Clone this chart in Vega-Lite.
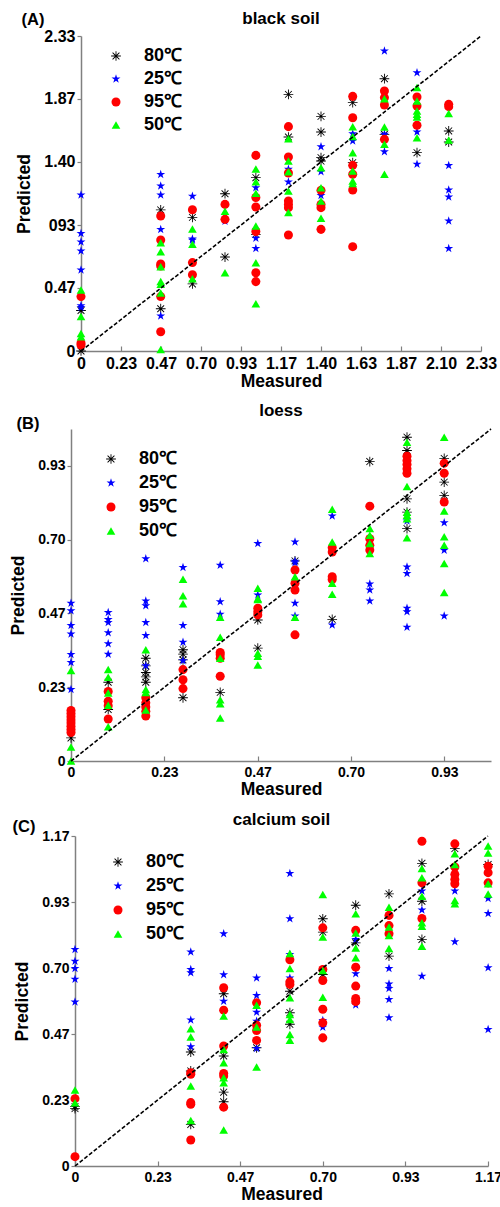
{
"$schema": "https://vega.github.io/schema/vega-lite/v6.json",
"padding": {"left": 9, "top": 9, "right": 0, "bottom": 0},
"config": {
 "font": "Liberation Sans",
 "view": {"stroke": null},
 "concat": {"spacing": 12},
 "axis": {"domainColor": "#808080", "tickColor": "#808080", "domainWidth": 1.5, "tickWidth": 1.2, "labelColor": "black", "labelFontWeight": "bold", "titleFontWeight": "bold", "titleFontSize": 17.5, "titleColor": "black", "grid": false, "labelFont": "Liberation Sans", "titleFont": "Liberation Sans", "labelFlush": false, "labelOverlap": false},
 "axisX": {"tickSize": -5, "labelPadding": 9, "titlePadding": 1},
 "axisY": {"tickSize": 4, "labelPadding": 2, "titlePadding": 10}
},
"resolve": {"scale": {"color": "independent", "shape": "independent", "size": "independent"}, "legend": {"color": "independent", "shape": "independent"}},
"datasets": {
"A": [
{"m":0,"p":0.30,"T":"80℃"},{"m":0,"p":0.0,"T":"80℃"},{"m":0.465,"p":1.045,"T":"80℃"},{"m":0.465,"p":0.313,"T":"80℃"},{"m":0.65,"p":0.99,"T":"80℃"},{"m":0.65,"p":0.497,"T":"80℃"},{"m":0.84,"p":1.165,"T":"80℃"},{"m":0.84,"p":0.696,"T":"80℃"},{"m":1.02,"p":1.284,"T":"80℃"},{"m":1.02,"p":0.864,"T":"80℃"},{"m":1.21,"p":1.901,"T":"80℃"},{"m":1.21,"p":1.585,"T":"80℃"},{"m":1.40,"p":1.738,"T":"80℃"},{"m":1.40,"p":1.622,"T":"80℃"},{"m":1.40,"p":1.432,"T":"80℃"},{"m":1.40,"p":1.407,"T":"80℃"},{"m":1.585,"p":1.84,"T":"80℃"},{"m":1.585,"p":1.395,"T":"80℃"},{"m":1.77,"p":2.017,"T":"80℃"},{"m":1.77,"p":1.605,"T":"80℃"},{"m":1.96,"p":1.469,"T":"80℃"},{"m":2.145,"p":1.63,"T":"80℃"},{"m":2.145,"p":1.548,"T":"80℃"},
{"m":0,"p":1.156,"T":"25℃"},{"m":0,"p":0.871,"T":"25℃"},{"m":0,"p":0.807,"T":"25℃"},{"m":0,"p":0.741,"T":"25℃"},{"m":0,"p":0.6,"T":"25℃"},{"m":0,"p":0.335,"T":"25℃"},{"m":0,"p":0.322,"T":"25℃"},{"m":0.465,"p":1.308,"T":"25℃"},{"m":0.465,"p":1.222,"T":"25℃"},{"m":0.465,"p":1.156,"T":"25℃"},{"m":0.465,"p":0.9,"T":"25℃"},{"m":0.465,"p":0.26,"T":"25℃"},{"m":0.65,"p":1.146,"T":"25℃"},{"m":0.65,"p":0.83,"T":"25℃"},{"m":0.65,"p":0.82,"T":"25℃"},{"m":0.84,"p":0.962,"T":"25℃"},{"m":1.02,"p":1.21,"T":"25℃"},{"m":1.02,"p":0.835,"T":"25℃"},{"m":1.02,"p":0.76,"T":"25℃"},{"m":1.21,"p":1.346,"T":"25℃"},{"m":1.21,"p":1.252,"T":"25℃"},{"m":1.40,"p":1.514,"T":"25℃"},{"m":1.40,"p":1.328,"T":"25℃"},{"m":1.40,"p":1.153,"T":"25℃"},{"m":1.585,"p":1.61,"T":"25℃"},{"m":1.585,"p":1.556,"T":"25℃"},{"m":1.77,"p":2.222,"T":"25℃"},{"m":1.77,"p":1.605,"T":"25℃"},{"m":1.77,"p":1.477,"T":"25℃"},{"m":1.96,"p":2.062,"T":"25℃"},{"m":1.96,"p":1.622,"T":"25℃"},{"m":1.96,"p":1.383,"T":"25℃"},{"m":2.145,"p":1.375,"T":"25℃"},{"m":2.145,"p":1.193,"T":"25℃"},{"m":2.145,"p":1.141,"T":"25℃"},{"m":2.145,"p":0.963,"T":"25℃"},{"m":2.145,"p":0.76,"T":"25℃"},
{"m":0,"p":0.403,"T":"95℃"},{"m":0,"p":0.06,"T":"95℃"},{"m":0,"p":0.044,"T":"95℃"},{"m":0.465,"p":1.0,"T":"95℃"},{"m":0.465,"p":0.822,"T":"95℃"},{"m":0.465,"p":0.645,"T":"95℃"},{"m":0.465,"p":0.63,"T":"95℃"},{"m":0.465,"p":0.403,"T":"95℃"},{"m":0.465,"p":0.143,"T":"95℃"},{"m":0.65,"p":1.046,"T":"95℃"},{"m":0.65,"p":0.655,"T":"95℃"},{"m":0.65,"p":0.565,"T":"95℃"},{"m":0.84,"p":1.086,"T":"95℃"},{"m":0.84,"p":0.975,"T":"95℃"},{"m":1.02,"p":1.449,"T":"95℃"},{"m":1.02,"p":1.137,"T":"95℃"},{"m":1.02,"p":1.067,"T":"95℃"},{"m":1.02,"p":0.885,"T":"95℃"},{"m":1.02,"p":0.58,"T":"95℃"},{"m":1.02,"p":0.514,"T":"95℃"},{"m":1.21,"p":1.662,"T":"95℃"},{"m":1.21,"p":1.437,"T":"95℃"},{"m":1.21,"p":1.319,"T":"95℃"},{"m":1.21,"p":1.111,"T":"95℃"},{"m":1.21,"p":1.086,"T":"95℃"},{"m":1.21,"p":1.062,"T":"95℃"},{"m":1.21,"p":0.859,"T":"95℃"},{"m":1.40,"p":1.19,"T":"95℃"},{"m":1.40,"p":1.086,"T":"95℃"},{"m":1.40,"p":1.062,"T":"95℃"},{"m":1.40,"p":0.901,"T":"95℃"},{"m":1.585,"p":1.886,"T":"95℃"},{"m":1.585,"p":1.728,"T":"95℃"},{"m":1.585,"p":1.375,"T":"95℃"},{"m":1.585,"p":1.309,"T":"95℃"},{"m":1.585,"p":1.193,"T":"95℃"},{"m":1.585,"p":0.773,"T":"95℃"},{"m":1.77,"p":1.926,"T":"95℃"},{"m":1.77,"p":1.877,"T":"95℃"},{"m":1.77,"p":1.822,"T":"95℃"},{"m":1.77,"p":1.568,"T":"95℃"},{"m":1.96,"p":1.881,"T":"95℃"},{"m":1.96,"p":1.815,"T":"95℃"},{"m":1.96,"p":1.672,"T":"95℃"},{"m":2.145,"p":1.827,"T":"95℃"},{"m":2.145,"p":1.81,"T":"95℃"},
{"m":0,"p":0.452,"T":"50℃"},{"m":0,"p":0.255,"T":"50℃"},{"m":0,"p":0.13,"T":"50℃"},{"m":0,"p":0.105,"T":"50℃"},{"m":0.465,"p":0.802,"T":"50℃"},{"m":0.465,"p":0.736,"T":"50℃"},{"m":0.465,"p":0.625,"T":"50℃"},{"m":0.465,"p":0.514,"T":"50℃"},{"m":0.465,"p":0.494,"T":"50℃"},{"m":0.465,"p":0.43,"T":"50℃"},{"m":0.465,"p":0.012,"T":"50℃"},{"m":0.65,"p":0.903,"T":"50℃"},{"m":0.65,"p":0.79,"T":"50℃"},{"m":0.65,"p":0.535,"T":"50℃"},{"m":0.84,"p":1.035,"T":"50℃"},{"m":0.84,"p":0.58,"T":"50℃"},{"m":1.02,"p":1.348,"T":"50℃"},{"m":1.02,"p":1.254,"T":"50℃"},{"m":1.02,"p":1.168,"T":"50℃"},{"m":1.02,"p":0.926,"T":"50℃"},{"m":1.02,"p":0.654,"T":"50℃"},{"m":1.02,"p":0.35,"T":"50℃"},{"m":1.21,"p":1.573,"T":"50℃"},{"m":1.21,"p":1.407,"T":"50℃"},{"m":1.21,"p":1.328,"T":"50℃"},{"m":1.21,"p":1.185,"T":"50℃"},{"m":1.21,"p":1.025,"T":"50℃"},{"m":1.40,"p":1.358,"T":"50℃"},{"m":1.40,"p":1.21,"T":"50℃"},{"m":1.40,"p":1.111,"T":"50℃"},{"m":1.40,"p":0.983,"T":"50℃"},{"m":1.585,"p":1.662,"T":"50℃"},{"m":1.585,"p":1.588,"T":"50℃"},{"m":1.585,"p":1.469,"T":"50℃"},{"m":1.585,"p":1.333,"T":"50℃"},{"m":1.585,"p":1.259,"T":"50℃"},{"m":1.585,"p":1.24,"T":"50℃"},{"m":1.77,"p":1.869,"T":"50℃"},{"m":1.77,"p":1.659,"T":"50℃"},{"m":1.77,"p":1.531,"T":"50℃"},{"m":1.77,"p":1.309,"T":"50℃"},{"m":1.96,"p":1.951,"T":"50℃"},{"m":1.96,"p":1.852,"T":"50℃"},{"m":1.96,"p":1.778,"T":"50℃"},{"m":1.96,"p":1.753,"T":"50℃"},{"m":1.96,"p":1.733,"T":"50℃"},{"m":1.96,"p":1.58,"T":"50℃"},{"m":2.145,"p":1.76,"T":"50℃"},{"m":2.145,"p":1.563,"T":"50℃"}
],
"B": [
{"m":0,"p":0.073,"T":"80℃"},{"m":0.093,"p":0.249,"T":"80℃"},{"m":0.093,"p":0.163,"T":"80℃"},{"m":0.187,"p":0.325,"T":"80℃"},{"m":0.187,"p":0.301,"T":"80℃"},{"m":0.187,"p":0.28,"T":"80℃"},{"m":0.187,"p":0.266,"T":"80℃"},{"m":0.187,"p":0.249,"T":"80℃"},{"m":0.28,"p":0.352,"T":"80℃"},{"m":0.28,"p":0.338,"T":"80℃"},{"m":0.28,"p":0.32,"T":"80℃"},{"m":0.28,"p":0.2,"T":"80℃"},{"m":0.373,"p":0.217,"T":"80℃"},{"m":0.467,"p":0.446,"T":"80℃"},{"m":0.467,"p":0.357,"T":"80℃"},{"m":0.56,"p":0.633,"T":"80℃"},{"m":0.653,"p":0.448,"T":"80℃"},{"m":0.747,"p":0.947,"T":"80℃"},{"m":0.84,"p":1.024,"T":"80℃"},{"m":0.84,"p":0.982,"T":"80℃"},{"m":0.84,"p":0.829,"T":"80℃"},{"m":0.84,"p":0.787,"T":"80℃"},{"m":0.84,"p":0.735,"T":"80℃"},{"m":0.933,"p":0.957,"T":"80℃"},{"m":0.933,"p":0.882,"T":"80℃"},{"m":0.933,"p":0.84,"T":"80℃"},
{"m":0,"p":0.499,"T":"25℃"},{"m":0,"p":0.475,"T":"25℃"},{"m":0,"p":0.429,"T":"25℃"},{"m":0,"p":0.402,"T":"25℃"},{"m":0,"p":0.337,"T":"25℃"},{"m":0,"p":0.312,"T":"25℃"},{"m":0,"p":0.226,"T":"25℃"},{"m":0.093,"p":0.47,"T":"25℃"},{"m":0.093,"p":0.448,"T":"25℃"},{"m":0.093,"p":0.438,"T":"25℃"},{"m":0.093,"p":0.406,"T":"25℃"},{"m":0.093,"p":0.371,"T":"25℃"},{"m":0.093,"p":0.338,"T":"25℃"},{"m":0.187,"p":0.64,"T":"25℃"},{"m":0.187,"p":0.506,"T":"25℃"},{"m":0.187,"p":0.491,"T":"25℃"},{"m":0.187,"p":0.438,"T":"25℃"},{"m":0.187,"p":0.397,"T":"25℃"},{"m":0.187,"p":0.301,"T":"25℃"},{"m":0.28,"p":0.612,"T":"25℃"},{"m":0.28,"p":0.429,"T":"25℃"},{"m":0.28,"p":0.376,"T":"25℃"},{"m":0.28,"p":0.317,"T":"25℃"},{"m":0.373,"p":0.619,"T":"25℃"},{"m":0.373,"p":0.504,"T":"25℃"},{"m":0.373,"p":0.464,"T":"25℃"},{"m":0.467,"p":0.688,"T":"25℃"},{"m":0.467,"p":0.525,"T":"25℃"},{"m":0.56,"p":0.693,"T":"25℃"},{"m":0.56,"p":0.632,"T":"25℃"},{"m":0.56,"p":0.627,"T":"25℃"},{"m":0.56,"p":0.499,"T":"25℃"},{"m":0.56,"p":0.459,"T":"25℃"},{"m":0.653,"p":0.775,"T":"25℃"},{"m":0.653,"p":0.43,"T":"25℃"},{"m":0.747,"p":0.56,"T":"25℃"},{"m":0.747,"p":0.541,"T":"25℃"},{"m":0.747,"p":0.506,"T":"25℃"},{"m":0.84,"p":0.759,"T":"25℃"},{"m":0.84,"p":0.614,"T":"25℃"},{"m":0.84,"p":0.593,"T":"25℃"},{"m":0.84,"p":0.483,"T":"25℃"},{"m":0.84,"p":0.472,"T":"25℃"},{"m":0.84,"p":0.423,"T":"25℃"},{"m":0.933,"p":0.754,"T":"25℃"},{"m":0.933,"p":0.667,"T":"25℃"},{"m":0.933,"p":0.459,"T":"25℃"},
{"m":0,"p":0.16,"T":"95℃"},{"m":0,"p":0.15,"T":"95℃"},{"m":0,"p":0.14,"T":"95℃"},{"m":0,"p":0.13,"T":"95℃"},{"m":0,"p":0.12,"T":"95℃"},{"m":0,"p":0.11,"T":"95℃"},{"m":0,"p":0.1,"T":"95℃"},{"m":0,"p":0.09,"T":"95℃"},{"m":0.093,"p":0.22,"T":"95℃"},{"m":0.093,"p":0.189,"T":"95℃"},{"m":0.093,"p":0.175,"T":"95℃"},{"m":0.093,"p":0.133,"T":"95℃"},{"m":0.187,"p":0.2,"T":"95℃"},{"m":0.187,"p":0.184,"T":"95℃"},{"m":0.187,"p":0.171,"T":"95℃"},{"m":0.187,"p":0.157,"T":"95℃"},{"m":0.187,"p":0.142,"T":"95℃"},{"m":0.28,"p":0.289,"T":"95℃"},{"m":0.28,"p":0.257,"T":"95℃"},{"m":0.28,"p":0.229,"T":"95℃"},{"m":0.373,"p":0.343,"T":"95℃"},{"m":0.373,"p":0.336,"T":"95℃"},{"m":0.373,"p":0.325,"T":"95℃"},{"m":0.373,"p":0.268,"T":"95℃"},{"m":0.467,"p":0.483,"T":"95℃"},{"m":0.467,"p":0.472,"T":"95℃"},{"m":0.467,"p":0.462,"T":"95℃"},{"m":0.56,"p":0.604,"T":"95℃"},{"m":0.56,"p":0.562,"T":"95℃"},{"m":0.56,"p":0.541,"T":"95℃"},{"m":0.56,"p":0.399,"T":"95℃"},{"m":0.653,"p":0.675,"T":"95℃"},{"m":0.653,"p":0.661,"T":"95℃"},{"m":0.653,"p":0.583,"T":"95℃"},{"m":0.653,"p":0.574,"T":"95℃"},{"m":0.747,"p":0.806,"T":"95℃"},{"m":0.747,"p":0.703,"T":"95℃"},{"m":0.747,"p":0.682,"T":"95℃"},{"m":0.747,"p":0.667,"T":"95℃"},{"m":0.84,"p":0.964,"T":"95℃"},{"m":0.84,"p":0.95,"T":"95℃"},{"m":0.84,"p":0.938,"T":"95℃"},{"m":0.84,"p":0.924,"T":"95℃"},{"m":0.84,"p":0.91,"T":"95℃"},{"m":0.933,"p":0.942,"T":"95℃"},{"m":0.933,"p":0.91,"T":"95℃"},{"m":0.933,"p":0.819,"T":"95℃"},
{"m":0,"p":0.286,"T":"50℃"},{"m":0,"p":0.044,"T":"50℃"},{"m":0,"p":0.0,"T":"50℃"},{"m":0.093,"p":0.289,"T":"50℃"},{"m":0.093,"p":0.265,"T":"50℃"},{"m":0.093,"p":0.215,"T":"50℃"},{"m":0.093,"p":0.176,"T":"50℃"},{"m":0.093,"p":0.108,"T":"50℃"},{"m":0.187,"p":0.352,"T":"50℃"},{"m":0.187,"p":0.226,"T":"50℃"},{"m":0.187,"p":0.217,"T":"50℃"},{"m":0.187,"p":0.161,"T":"50℃"},{"m":0.28,"p":0.575,"T":"50℃"},{"m":0.28,"p":0.523,"T":"50℃"},{"m":0.28,"p":0.497,"T":"50℃"},{"m":0.373,"p":0.455,"T":"50℃"},{"m":0.373,"p":0.391,"T":"50℃"},{"m":0.373,"p":0.325,"T":"50℃"},{"m":0.373,"p":0.194,"T":"50℃"},{"m":0.373,"p":0.181,"T":"50℃"},{"m":0.373,"p":0.136,"T":"50℃"},{"m":0.467,"p":0.546,"T":"50℃"},{"m":0.467,"p":0.514,"T":"50℃"},{"m":0.467,"p":0.511,"T":"50℃"},{"m":0.467,"p":0.341,"T":"50℃"},{"m":0.467,"p":0.331,"T":"50℃"},{"m":0.467,"p":0.304,"T":"50℃"},{"m":0.56,"p":0.583,"T":"50℃"},{"m":0.56,"p":0.455,"T":"50℃"},{"m":0.653,"p":0.796,"T":"50℃"},{"m":0.653,"p":0.693,"T":"50℃"},{"m":0.653,"p":0.562,"T":"50℃"},{"m":0.653,"p":0.527,"T":"50℃"},{"m":0.747,"p":0.735,"T":"50℃"},{"m":0.747,"p":0.714,"T":"50℃"},{"m":0.747,"p":0.688,"T":"50℃"},{"m":0.747,"p":0.656,"T":"50℃"},{"m":0.84,"p":1.008,"T":"50℃"},{"m":0.84,"p":0.868,"T":"50℃"},{"m":0.84,"p":0.787,"T":"50℃"},{"m":0.84,"p":0.777,"T":"50℃"},{"m":0.84,"p":0.766,"T":"50℃"},{"m":0.84,"p":0.706,"T":"50℃"},{"m":0.933,"p":1.024,"T":"50℃"},{"m":0.933,"p":0.791,"T":"50℃"},{"m":0.933,"p":0.709,"T":"50℃"},{"m":0.933,"p":0.682,"T":"50℃"},{"m":0.933,"p":0.625,"T":"50℃"},{"m":0.933,"p":0.533,"T":"50℃"}
],
"C": [
{"m":0,"p":0.21,"T":"80℃"},{"m":0,"p":0.203,"T":"80℃"},{"m":0.327,"p":0.403,"T":"80℃"},{"m":0.327,"p":0.336,"T":"80℃"},{"m":0.327,"p":0.147,"T":"80℃"},{"m":0.42,"p":0.609,"T":"80℃"},{"m":0.42,"p":0.389,"T":"80℃"},{"m":0.42,"p":0.261,"T":"80℃"},{"m":0.42,"p":0.227,"T":"80℃"},{"m":0.513,"p":0.418,"T":"80℃"},{"m":0.607,"p":0.618,"T":"80℃"},{"m":0.607,"p":0.542,"T":"80℃"},{"m":0.607,"p":0.501,"T":"80℃"},{"m":0.70,"p":0.874,"T":"80℃"},{"m":0.70,"p":0.827,"T":"80℃"},{"m":0.70,"p":0.677,"T":"80℃"},{"m":0.793,"p":0.922,"T":"80℃"},{"m":0.793,"p":0.789,"T":"80℃"},{"m":0.887,"p":0.962,"T":"80℃"},{"m":0.887,"p":0.742,"T":"80℃"},{"m":0.98,"p":1.07,"T":"80℃"},{"m":0.98,"p":0.936,"T":"80℃"},{"m":0.98,"p":0.801,"T":"80℃"},{"m":1.073,"p":1.122,"T":"80℃"},{"m":1.167,"p":1.066,"T":"80℃"},
{"m":0,"p":0.766,"T":"25℃"},{"m":0,"p":0.724,"T":"25℃"},{"m":0,"p":0.698,"T":"25℃"},{"m":0,"p":0.66,"T":"25℃"},{"m":0,"p":0.58,"T":"25℃"},{"m":0.327,"p":0.757,"T":"25℃"},{"m":0.327,"p":0.695,"T":"25℃"},{"m":0.327,"p":0.683,"T":"25℃"},{"m":0.327,"p":0.516,"T":"25℃"},{"m":0.327,"p":0.422,"T":"25℃"},{"m":0.42,"p":0.821,"T":"25℃"},{"m":0.42,"p":0.676,"T":"25℃"},{"m":0.42,"p":0.583,"T":"25℃"},{"m":0.513,"p":0.665,"T":"25℃"},{"m":0.513,"p":0.603,"T":"25℃"},{"m":0.513,"p":0.544,"T":"25℃"},{"m":0.513,"p":0.512,"T":"25℃"},{"m":0.513,"p":0.416,"T":"25℃"},{"m":0.607,"p":1.034,"T":"25℃"},{"m":0.607,"p":0.874,"T":"25℃"},{"m":0.607,"p":0.748,"T":"25℃"},{"m":0.607,"p":0.665,"T":"25℃"},{"m":0.70,"p":0.515,"T":"25℃"},{"m":0.70,"p":0.491,"T":"25℃"},{"m":0.793,"p":0.801,"T":"25℃"},{"m":0.793,"p":0.68,"T":"25℃"},{"m":0.793,"p":0.569,"T":"25℃"},{"m":0.887,"p":0.698,"T":"25℃"},{"m":0.887,"p":0.644,"T":"25℃"},{"m":0.887,"p":0.628,"T":"25℃"},{"m":0.887,"p":0.589,"T":"25℃"},{"m":0.887,"p":0.524,"T":"25℃"},{"m":0.98,"p":0.972,"T":"25℃"},{"m":0.98,"p":0.905,"T":"25℃"},{"m":0.98,"p":0.671,"T":"25℃"},{"m":1.073,"p":0.972,"T":"25℃"},{"m":1.073,"p":0.793,"T":"25℃"},{"m":1.167,"p":0.946,"T":"25℃"},{"m":1.167,"p":0.893,"T":"25℃"},{"m":1.167,"p":0.701,"T":"25℃"},{"m":1.167,"p":0.483,"T":"25℃"},
{"m":0,"p":0.238,"T":"95℃"},{"m":0,"p":0.033,"T":"95℃"},{"m":0.327,"p":0.33,"T":"95℃"},{"m":0.327,"p":0.324,"T":"95℃"},{"m":0.327,"p":0.224,"T":"95℃"},{"m":0.327,"p":0.218,"T":"95℃"},{"m":0.327,"p":0.092,"T":"95℃"},{"m":0.42,"p":0.63,"T":"95℃"},{"m":0.42,"p":0.551,"T":"95℃"},{"m":0.42,"p":0.424,"T":"95℃"},{"m":0.42,"p":0.327,"T":"95℃"},{"m":0.42,"p":0.318,"T":"95℃"},{"m":0.42,"p":0.208,"T":"95℃"},{"m":0.513,"p":0.577,"T":"95℃"},{"m":0.513,"p":0.498,"T":"95℃"},{"m":0.513,"p":0.479,"T":"95℃"},{"m":0.513,"p":0.444,"T":"95℃"},{"m":0.607,"p":0.729,"T":"95℃"},{"m":0.607,"p":0.651,"T":"95℃"},{"m":0.607,"p":0.642,"T":"95℃"},{"m":0.70,"p":0.842,"T":"95℃"},{"m":0.70,"p":0.695,"T":"95℃"},{"m":0.70,"p":0.656,"T":"95℃"},{"m":0.70,"p":0.554,"T":"95℃"},{"m":0.70,"p":0.506,"T":"95℃"},{"m":0.70,"p":0.453,"T":"95℃"},{"m":0.793,"p":0.833,"T":"95℃"},{"m":0.793,"p":0.703,"T":"95℃"},{"m":0.793,"p":0.636,"T":"95℃"},{"m":0.793,"p":0.592,"T":"95℃"},{"m":0.793,"p":0.581,"T":"95℃"},{"m":0.887,"p":0.886,"T":"95℃"},{"m":0.887,"p":0.85,"T":"95℃"},{"m":0.887,"p":0.821,"T":"95℃"},{"m":0.98,"p":1.148,"T":"95℃"},{"m":0.98,"p":1.001,"T":"95℃"},{"m":0.98,"p":0.875,"T":"95℃"},{"m":1.073,"p":1.139,"T":"95℃"},{"m":1.073,"p":1.057,"T":"95℃"},{"m":1.073,"p":1.031,"T":"95℃"},{"m":1.073,"p":1.013,"T":"95℃"},{"m":1.073,"p":0.998,"T":"95℃"},{"m":1.167,"p":1.06,"T":"95℃"},{"m":1.167,"p":1.037,"T":"95℃"},{"m":1.167,"p":1.001,"T":"95℃"},
{"m":0,"p":0.269,"T":"50℃"},{"m":0,"p":0.224,"T":"50℃"},{"m":0.327,"p":0.485,"T":"50℃"},{"m":0.327,"p":0.456,"T":"50℃"},{"m":0.327,"p":0.283,"T":"50℃"},{"m":0.327,"p":0.161,"T":"50℃"},{"m":0.42,"p":0.53,"T":"50℃"},{"m":0.42,"p":0.412,"T":"50℃"},{"m":0.42,"p":0.365,"T":"50℃"},{"m":0.42,"p":0.312,"T":"50℃"},{"m":0.42,"p":0.294,"T":"50℃"},{"m":0.42,"p":0.127,"T":"50℃"},{"m":0.513,"p":0.568,"T":"50℃"},{"m":0.513,"p":0.491,"T":"50℃"},{"m":0.513,"p":0.35,"T":"50℃"},{"m":0.607,"p":0.751,"T":"50℃"},{"m":0.607,"p":0.698,"T":"50℃"},{"m":0.607,"p":0.595,"T":"50℃"},{"m":0.607,"p":0.536,"T":"50℃"},{"m":0.607,"p":0.518,"T":"50℃"},{"m":0.607,"p":0.465,"T":"50℃"},{"m":0.607,"p":0.445,"T":"50℃"},{"m":0.70,"p":0.96,"T":"50℃"},{"m":0.70,"p":0.81,"T":"50℃"},{"m":0.70,"p":0.691,"T":"50℃"},{"m":0.70,"p":0.597,"T":"50℃"},{"m":0.793,"p":0.892,"T":"50℃"},{"m":0.793,"p":0.824,"T":"50℃"},{"m":0.793,"p":0.771,"T":"50℃"},{"m":0.793,"p":0.736,"T":"50℃"},{"m":0.887,"p":0.915,"T":"50℃"},{"m":0.887,"p":0.845,"T":"50℃"},{"m":0.887,"p":0.815,"T":"50℃"},{"m":0.887,"p":0.769,"T":"50℃"},{"m":0.98,"p":1.052,"T":"50℃"},{"m":0.98,"p":1.019,"T":"50℃"},{"m":0.98,"p":0.954,"T":"50℃"},{"m":0.98,"p":0.86,"T":"50℃"},{"m":0.98,"p":0.848,"T":"50℃"},{"m":0.98,"p":0.777,"T":"50℃"},{"m":1.073,"p":1.104,"T":"50℃"},{"m":1.073,"p":1.066,"T":"50℃"},{"m":1.073,"p":0.939,"T":"50℃"},{"m":1.073,"p":0.927,"T":"50℃"},{"m":1.167,"p":1.131,"T":"50℃"},{"m":1.167,"p":1.107,"T":"50℃"},{"m":1.167,"p":0.998,"T":"50℃"},{"m":1.167,"p":0.962,"T":"50℃"}
]
},
"vconcat": [
{
 "width": 410, "height": 315,
 "layer": [
  {
   "data": {"name": "A"},
   "mark": {"type": "point", "filled": true, "opacity": 1, "strokeWidth": 0},
   "encoding": {
    "x": {"field": "m", "type": "quantitative", "scale": {"domain": [0, 2.333333], "range": [10, 410], "nice": false, "zero": false},
          "axis": {"title": "Measured", "values": [0,0.233333,0.466667,0.7,0.933333,1.166667,1.4,1.633333,1.866667,2.1,2.333333], "labelExpr": "datum.value < 0.001 ? '0' : format(datum.value, '.2f')", "labelFontSize": 16, "labelOverlap": false, "labelFlush": false}},
    "y": {"field": "p", "type": "quantitative", "scale": {"domain": [0, 2.333333], "nice": false, "zero": false},
          "axis": {"title": "Predicted", "offset": -10, "values": [0,0.233333,0.466667,0.7,0.933333,1.166667,1.4,1.633333,1.866667,2.1,2.333333], "labelExpr": "abs(datum.value - 0.933333) < 0.001 ? '093' : (datum.value < 0.001 ? '0' : format(datum.value, '.2f'))", "labelFontSize": 16, "labelOverlap": false}},
    "color": {"field": "T", "type": "nominal", "scale": {"domain": ["80℃","25℃","95℃","50℃"], "range": ["#000000","#0000ff","#ff0000","#00ff00"]},
              "legend": {"orient": "none", "legendX": 36, "legendY": 11, "title": null, "labelFontSize": 18, "labelFontWeight": "bold", "labelFont": "Liberation Sans", "symbolSize": 85, "rowPadding": 5, "labelOffset": 19, "padding": 0, "symbolStrokeWidth": 0}},
    "shape": {"field": "T", "type": "nominal", "scale": {"domain": ["80℃","25℃","95℃","50℃"], "range": ["M-1,-0.09H1V0.09H-1ZM-0.09,-1H0.09V1H-0.09ZM-0.636,-0.764L0.764,0.636L0.636,0.764L-0.764,-0.636ZM-0.764,0.636L0.636,-0.764L0.764,-0.636L-0.636,0.764Z","M0,-1L0.2245,-0.309L0.951,-0.309L0.363,0.118L0.588,0.809L0,0.382L-0.588,0.809L-0.363,0.118L-0.951,-0.309L-0.2245,-0.309Z","circle","triangle-up"]},
              "legend": {"orient": "none", "legendX": 36, "legendY": 11, "title": null, "labelFontSize": 18, "labelFontWeight": "bold", "labelFont": "Liberation Sans", "symbolSize": 85, "rowPadding": 5, "labelOffset": 19, "padding": 0, "symbolStrokeWidth": 0}},
    "size": {"field": "T", "type": "nominal", "scale": {"domain": ["80℃","25℃","95℃","50℃"], "range": [95, 75, 80, 100]}, "legend": null}
   }
  },
  {
   "data": {"values": [{}]},
   "mark": {"type": "rule", "strokeDash": [4, 2], "strokeWidth": 1.6, "color": "black"},
   "encoding": {"x": {"datum": 0, "type": "quantitative"}, "y": {"datum": 0, "type": "quantitative"}, "x2": {"datum": 2.333333}, "y2": {"datum": 2.333333}}
  },
  {
   "data": {"values": [{}]},
   "mark": {"type": "text", "fontSize": 17, "fontWeight": "bold", "baseline": "middle", "align": "center"},
   "encoding": {"x": {"datum": 1.166667, "type": "quantitative"}, "y": {"datum": 2.462, "type": "quantitative"}, "text": {"value": "black soil"}}
  },
  {
   "data": {"values": [{}]},
   "mark": {"type": "text", "fontSize": 16.5, "fontWeight": "bold", "baseline": "middle", "align": "center"},
   "encoding": {"x": {"datum": -0.28, "type": "quantitative"}, "y": {"datum": 2.45, "type": "quantitative"}, "text": {"value": "(A)"}}
  }
 ]
},
{
 "width": 420, "height": 332,
 "layer": [
  {
   "data": {"name": "B"},
   "mark": {"type": "point", "filled": true, "opacity": 1, "strokeWidth": 0},
   "encoding": {
    "x": {"field": "m", "type": "quantitative", "scale": {"domain": [0, 1.05], "nice": false, "zero": false},
          "axis": {"title": "Measured", "values": [0,0.233333,0.466667,0.7,0.933333], "labelExpr": "datum.value < 0.001 ? '0' : format(datum.value, '.2f')", "labelFontSize": 14, "labelOverlap": false, "labelFlush": false}},
    "y": {"field": "p", "type": "quantitative", "scale": {"domain": [0, 1.05], "nice": false, "zero": false},
          "axis": {"title": "Predicted", "values": [0,0.233333,0.466667,0.7,0.933333], "labelExpr": "datum.value < 0.001 ? '0' : format(datum.value, '.2f')", "labelFontSize": 14, "labelOverlap": false}},
    "color": {"field": "T", "type": "nominal", "scale": {"domain": ["80℃","25℃","95℃","50℃"], "range": ["#000000","#0000ff","#ff0000","#00ff00"]},
              "legend": {"orient": "none", "legendX": 31, "legendY": 21, "title": null, "labelFontSize": 18, "labelFontWeight": "bold", "labelFont": "Liberation Sans", "symbolSize": 85, "rowPadding": 6, "labelOffset": 19, "padding": 0, "symbolStrokeWidth": 0}},
    "shape": {"field": "T", "type": "nominal", "scale": {"domain": ["80℃","25℃","95℃","50℃"], "range": ["M-1,-0.09H1V0.09H-1ZM-0.09,-1H0.09V1H-0.09ZM-0.636,-0.764L0.764,0.636L0.636,0.764L-0.764,-0.636ZM-0.764,0.636L0.636,-0.764L0.764,-0.636L-0.636,0.764Z","M0,-1L0.2245,-0.309L0.951,-0.309L0.363,0.118L0.588,0.809L0,0.382L-0.588,0.809L-0.363,0.118L-0.951,-0.309L-0.2245,-0.309Z","circle","triangle-up"]},
              "legend": {"orient": "none", "legendX": 31, "legendY": 21, "title": null, "labelFontSize": 18, "labelFontWeight": "bold", "labelFont": "Liberation Sans", "symbolSize": 85, "rowPadding": 6, "labelOffset": 19, "padding": 0, "symbolStrokeWidth": 0}},
    "size": {"field": "T", "type": "nominal", "scale": {"domain": ["80℃","25℃","95℃","50℃"], "range": [95, 75, 80, 100]}, "legend": null}
   }
  },
  {
   "data": {"values": [{}]},
   "mark": {"type": "rule", "strokeDash": [4, 2], "strokeWidth": 1.6, "color": "black"},
   "encoding": {"x": {"datum": 0, "type": "quantitative"}, "y": {"datum": 0, "type": "quantitative"}, "x2": {"datum": 1.05}, "y2": {"datum": 1.05}}
  },
  {
   "data": {"values": [{}]},
   "mark": {"type": "text", "fontSize": 17, "fontWeight": "bold", "baseline": "middle", "align": "center"},
   "encoding": {"x": {"datum": 0.525, "type": "quantitative"}, "y": {"datum": 1.106, "type": "quantitative"}, "text": {"value": "loess"}}
  },
  {
   "data": {"values": [{}]},
   "mark": {"type": "text", "fontSize": 16.5, "fontWeight": "bold", "baseline": "middle", "align": "center"},
   "encoding": {"x": {"datum": -0.1075, "type": "quantitative"}, "y": {"datum": 1.066, "type": "quantitative"}, "text": {"value": "(B)"}}
  }
 ]
},
{
 "width": 417, "height": 330,
 "layer": [
  {
   "data": {"name": "C"},
   "mark": {"type": "point", "filled": true, "opacity": 1, "strokeWidth": 0},
   "encoding": {
    "x": {"field": "m", "type": "quantitative", "scale": {"domain": [0, 1.166667], "range": [4, 417], "nice": false, "zero": false},
          "axis": {"title": "Measured", "values": [0,0.233333,0.466667,0.7,0.933333,1.166667], "labelExpr": "datum.value < 0.001 ? '0' : format(datum.value, '.2f')", "labelFontSize": 14, "labelOverlap": false, "labelFlush": false}},
    "y": {"field": "p", "type": "quantitative", "scale": {"domain": [0, 1.166667], "nice": false, "zero": false},
          "axis": {"title": "Predicted", "offset": -4, "values": [0,0.233333,0.466667,0.7,0.933333,1.166667], "labelExpr": "datum.value < 0.001 ? '0' : format(datum.value, '.2f')", "labelFontSize": 14, "labelOverlap": false}},
    "color": {"field": "T", "type": "nominal", "scale": {"domain": ["80℃","25℃","95℃","50℃"], "range": ["#000000","#0000ff","#ff0000","#00ff00"]},
              "legend": {"orient": "none", "legendX": 38, "legendY": 17, "title": null, "labelFontSize": 18, "labelFontWeight": "bold", "labelFont": "Liberation Sans", "symbolSize": 85, "rowPadding": 6, "labelOffset": 19, "padding": 0, "symbolStrokeWidth": 0}},
    "shape": {"field": "T", "type": "nominal", "scale": {"domain": ["80℃","25℃","95℃","50℃"], "range": ["M-1,-0.09H1V0.09H-1ZM-0.09,-1H0.09V1H-0.09ZM-0.636,-0.764L0.764,0.636L0.636,0.764L-0.764,-0.636ZM-0.764,0.636L0.636,-0.764L0.764,-0.636L-0.636,0.764Z","M0,-1L0.2245,-0.309L0.951,-0.309L0.363,0.118L0.588,0.809L0,0.382L-0.588,0.809L-0.363,0.118L-0.951,-0.309L-0.2245,-0.309Z","circle","triangle-up"]},
              "legend": {"orient": "none", "legendX": 38, "legendY": 17, "title": null, "labelFontSize": 18, "labelFontWeight": "bold", "labelFont": "Liberation Sans", "symbolSize": 85, "rowPadding": 6, "labelOffset": 19, "padding": 0, "symbolStrokeWidth": 0}},
    "size": {"field": "T", "type": "nominal", "scale": {"domain": ["80℃","25℃","95℃","50℃"], "range": [95, 75, 80, 100]}, "legend": null}
   }
  },
  {
   "data": {"values": [{}]},
   "mark": {"type": "rule", "strokeDash": [4, 2], "strokeWidth": 1.6, "color": "black"},
   "encoding": {"x": {"datum": 0, "type": "quantitative"}, "y": {"datum": 0, "type": "quantitative"}, "x2": {"datum": 1.166667}, "y2": {"datum": 1.166667}}
  },
  {
   "data": {"values": [{}]},
   "mark": {"type": "text", "fontSize": 17, "fontWeight": "bold", "baseline": "middle", "align": "center"},
   "encoding": {"x": {"datum": 0.583333, "type": "quantitative"}, "y": {"datum": 1.224, "type": "quantitative"}, "text": {"value": "calcium soil"}}
  },
  {
   "data": {"values": [{}]},
   "mark": {"type": "text", "fontSize": 16.5, "fontWeight": "bold", "baseline": "middle", "align": "center"},
   "encoding": {"x": {"datum": -0.144, "type": "quantitative"}, "y": {"datum": 1.197, "type": "quantitative"}, "text": {"value": "(C)"}}
  }
 ]
}
]
}
